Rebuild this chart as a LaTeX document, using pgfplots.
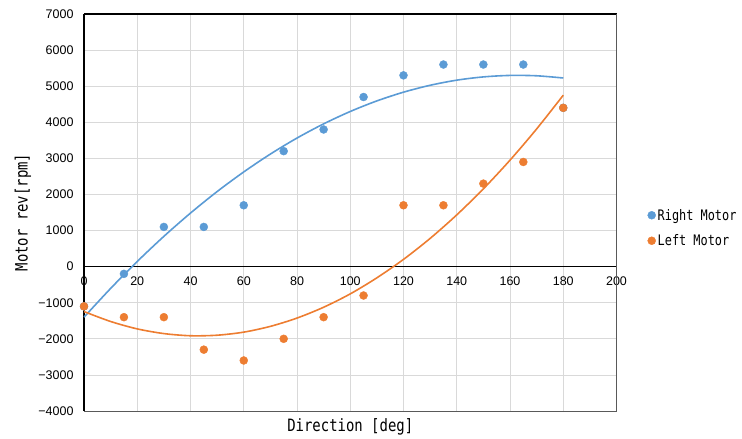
\documentclass[border=0pt]{standalone}
\usepackage{pgfplots}
\pgfplotsset{compat=1.18}
\usepackage{fontspec}
\setmainfont{Liberation Sans}
\newfontfamily\gothic[FakeStretch=0.82]{DejaVu Sans Mono}
\definecolor{xblue}{HTML}{5B9BD5}
\definecolor{xorange}{HTML}{ED7D31}
\definecolor{gridc}{HTML}{D9D9D9}
\definecolor{framec}{HTML}{595959}
\begin{document}
\begin{tikzpicture}
\useasboundingbox (0,0) rectangle (742bp,439bp);
\begin{axis}[
  at={(84bp,28bp)}, anchor=south west,
  scale only axis, width=532.5bp, height=397bp,
  xmin=0, xmax=200, ymin=-4000, ymax=7000,
  axis x line=middle, axis y line=left,
  axis line style={black, line width=1.5bp, -},
  hide obscured x ticks=false,
  xtick={0,20,...,200},
  ytick={-4000,-3000,...,7000},
  yticklabels={−4000,−3000,−2000,−1000,0,1000,2000,3000,4000,5000,6000,7000},
  major tick length=0pt,
  grid=major, grid style={gridc, line width=0.75bp},
  tick label style={font=\fontsize{12.5bp}{14bp}\selectfont},
  yticklabel style={xshift=-7bp},
  xticklabel style={yshift=-7bp},
  /pgf/number format/assume math mode=true,
  /pgf/number format/1000 sep={},
  xlabel={Direction [deg]},
  ylabel={Motor rev[rpm]},
  every axis x label/.style={at={([yshift=-16bp]axis description cs:0.5,0)}, anchor=center, font=\gothic\fontsize{17bp}{19bp}\selectfont},
  every axis y label/.style={at={([xshift=-61bp]axis description cs:0,0.5)}, anchor=center, rotate=90, font=\gothic\fontsize{17bp}{19bp}\selectfont},
  legend style={at={(1,0.5)}, anchor=west, xshift=31bp, yshift=-15.5bp, draw=none, fill=none,
    font=\gothic\fontsize{14.5bp}{16bp}\selectfont, row sep=9bp, inner sep=0pt},
  legend cell align=left,
  legend image code/.code={\draw[#1] plot coordinates {(0bp,0bp)};},
  clip=false,
]
\addplot[only marks, mark=*, mark size=4bp, draw=xblue, fill=xblue] coordinates {
(0,-1100) (15,-200) (30,1100) (45,1100) (60,1700) (75,3200) (90,3800) (105,4700) (120,5300) (135,5600) (150,5600) (165,5600) (180,4400)};
\addlegendentry{Right Motor}
\addplot[only marks, mark=*, mark size=4bp, draw=xorange, fill=xorange] coordinates {
(0,-1100) (15,-1400) (30,-1400) (45,-2300) (60,-2600) (75,-2000) (90,-1400) (105,-800) (120,1700) (135,1700) (150,2300) (165,2900) (180,4400)};
\addlegendentry{Left Motor}
\addplot[xblue, line width=1.6bp, smooth, forget plot] coordinates {
(0,-1400) (10,-604) (20,143) (30,839) (40,1484) (50,2080) (60,2624) (70,3119) (80,3563) (90,3956) (100,4299) (110,4592) (120,4834) (130,5025) (140,5167) (150,5257) (160,5298) (170,5288) (180,5227)};
\addplot[xorange, line width=1.6bp, smooth, forget plot] coordinates {
(0,-1245) (10,-1520) (20,-1725) (30,-1855) (40,-1915) (50,-1900) (60,-1815) (70,-1655) (80,-1425) (90,-1125) (100,-755) (110,-310) (120,201) (130,782) (140,1434) (150,2156) (160,2950) (170,3815) (180,4750)};
\draw[black, line width=1.5bp] (rel axis cs:0,1) -- (rel axis cs:1,1);
\draw[framec, line width=1bp] (rel axis cs:1,1) -- (rel axis cs:1,0) -- (rel axis cs:0,0);
\end{axis}
\end{tikzpicture}
\end{document}
